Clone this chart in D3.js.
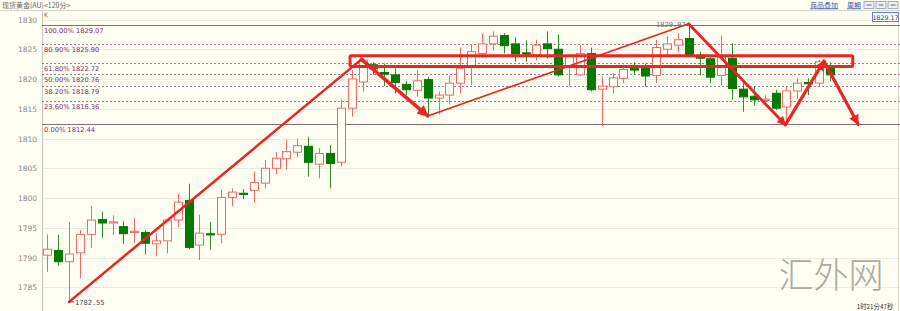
<!DOCTYPE html>
<html><head><meta charset="utf-8">
<script src="https://cdn.jsdelivr.net/npm/d3@7"></script>
<style>html,body{margin:0;padding:0;background:#fffff2;}svg{display:block;}</style>
</head><body>
<svg id="c" width="900" height="311"></svg>
<script>
// ---- data ----
const opens  = [1790.4,1791.2,1789.3,1790.8,1793.9,1796.4,1795.8,1795.2,1794.2,1794.2,1792.3,1792.8,1796.3,1799.6,1792.1,1794.0,1793.9,1800.1,1800.8,1801.3,1802.5,1805.0,1806.6,1807.7,1808.7,1805.7,1807.5,1806.0,1815.1,1819.5,1822.4,1821.1,1820.7,1819.1,1818.1,1819.9,1816.8,1817.3,1819.3,1822.0,1824.3,1825.9,1827.3,1825.9,1824.4,1824.1,1825.9,1825.0,1822.1,1820.7,1824.3,1818.3,1818.7,1820.1,1821.8,1821.9,1820.6,1825.0,1825.7,1826.8,1824.0,1823.4,1820.6,1823.5,1818.3,1817.1,1816.4,1817.6,1815.3,1818.0,1819.4,1819.3,1821.8];
const highs  = [1793.9,1793.8,1796.0,1794.6,1798.7,1797.7,1797.1,1796.1,1796.7,1794.6,1794.1,1796.5,1800.8,1802.4,1797.2,1796.0,1801.4,1801.6,1801.5,1804.5,1806.4,1807.7,1809.8,1810.0,1810.3,1808.4,1808.9,1816.6,1821.5,1823.5,1822.8,1822.6,1821.8,1819.7,1821.5,1820.4,1817.9,1820.6,1825.3,1825.8,1827.7,1828.0,1827.7,1827.0,1826.5,1826.6,1828.0,1827.5,1824.0,1825.7,1825.3,1820.4,1821.0,1822.4,1822.8,1822.6,1826.6,1827.2,1827.7,1829.07,1824.6,1824.0,1827.3,1826.0,1819.3,1818.7,1817.3,1818.2,1818.7,1820.1,1820.1,1823.2,1822.8];
const lows   = [1787.6,1788.6,1782.55,1786.5,1791.6,1793.3,1793.8,1792.3,1792.4,1790.5,1790.2,1790.7,1795.1,1791.4,1789.6,1791.3,1792.4,1798.7,1799.8,1799.2,1801.6,1804.0,1804.8,1806.9,1803.6,1803.3,1801.6,1805.3,1813.7,1817.9,1820.7,1818.8,1817.6,1817.3,1817.0,1813.8,1814.1,1815.7,1817.6,1819.0,1823.5,1824.8,1824.3,1822.9,1822.9,1823.1,1823.5,1820.4,1818.7,1820.5,1817.9,1812.1,1817.6,1819.3,1820.7,1818.7,1819.3,1824.2,1824.5,1823.7,1820.6,1819.3,1818.9,1816.5,1814.5,1815.5,1815.9,1814.8,1812.44,1816.6,1817.3,1818.7,1819.6];
const closes = [1791.4,1789.3,1790.6,1793.9,1796.3,1795.8,1796.0,1794.0,1794.4,1792.4,1792.8,1796.3,1799.3,1791.7,1794.1,1793.9,1800.1,1801.0,1800.6,1802.6,1805.0,1806.7,1807.8,1808.8,1806.0,1807.5,1805.8,1815.1,1820.0,1823.2,1821.7,1820.8,1819.4,1818.2,1819.7,1816.8,1817.3,1819.3,1821.8,1824.6,1825.9,1827.2,1825.6,1824.2,1824.2,1825.7,1825.1,1820.7,1823.8,1824.3,1818.2,1818.8,1820.2,1821.6,1821.5,1820.5,1825.3,1825.9,1826.6,1824.1,1823.5,1820.3,1823.7,1818.4,1817.0,1816.5,1816.6,1815.1,1818.0,1819.3,1819.2,1822.9,1820.7];
const yTicks = [1785,1790,1795,1800,1805,1810,1815,1820,1825,1830];
const fibPct  = ["100.00%","80.90%","61.80%","50.00%","38.20%","23.60%","0.00%"];
const fibVals = [1829.07,1825.90,1822.72,1820.76,1818.79,1816.36,1812.44];
// annotation path vertices: [candle index, price]
const annoIdx   = [2, 28.9, 35, 59, 67.9, 71.45, 74.6];
const annoPrice = [1782.55, 1823.3, 1813.8, 1829.3, 1812.3, 1823.0, 1812.4];
const boxIdx = [27.85, 74.1], boxPrice = [1823.9, 1822.1];
const title = "现货黄金(AU)<120分>";

// ---- scales ----
const svg = d3.select("#c");
const W = 900, H = 311, plotLeft = 42, plotTop = 10.5;
const x = d3.scaleLinear().domain([0, 72]).range([47.3, 47.3 + 72 * 10.87]);
const y = d3.scaleLinear().domain([1830, 1785]).range([19.5, 287.3]);

svg.append("rect").attr("width", W).attr("height", H).attr("fill", "#fffff2");

// header
svg.append("line").attr("x1", 0).attr("x2", W).attr("y1", plotTop).attr("y2", plotTop).attr("stroke", "#d4d4c8");
svg.append("text").attr("x", 2).attr("y", 8).text(title)
  .attr("font-family", "Noto Sans CJK SC").attr("font-size", 7).attr("fill", "#666");
svg.append("text").attr("x", 810).attr("y", 7.5).text("商品叠加").attr("font-family","Noto Sans CJK SC")
  .attr("font-size", 7).attr("fill", "#3355aa").attr("text-decoration","underline");
svg.append("text").attr("x", 847).attr("y", 7.5).text("周期").attr("font-family","Noto Sans CJK SC")
  .attr("font-size", 7).attr("fill", "#3355aa").attr("text-decoration","underline");
[864, 876, 888].forEach(bx => {
  svg.append("rect").attr("x", bx).attr("y", 1.5).attr("width", 10).attr("height", 7)
    .attr("fill", "#eef0f4").attr("stroke", "#8899aa").attr("stroke-width", 0.8);
  svg.append("line").attr("x1", bx+2.5).attr("x2", bx+7.5).attr("y1", 5).attr("y2", 5).attr("stroke", "#556677");
});

// grid + y axis labels
const g = svg.append("g");
g.selectAll("line.grid").data(yTicks).join("line").attr("class","grid")
  .attr("x1", plotLeft).attr("x2", W).attr("y1", d => Math.round(y(d)) + 0.5).attr("y2", d => Math.round(y(d)) + 0.5)
  .attr("stroke", "#ebebdf");
g.selectAll("text.yl").data(yTicks).join("text").attr("class","yl")
  .attr("x", 37).attr("y", d => y(d) + 3).attr("text-anchor", "end").text(d => d)
  .attr("font-family", "DejaVu Sans").attr("font-size", 7.5).attr("fill", "#888");
svg.append("line").attr("x1", plotLeft + 0.5).attr("x2", plotLeft + 0.5).attr("y1", plotTop).attr("y2", H).attr("stroke", "#c8c8bc");
svg.append("line").attr("x1", 898.5).attr("x2", 898.5).attr("y1", plotTop).attr("y2", H).attr("stroke", "#d8d8cc");
svg.append("text").attr("x", 44).attr("y", 16.5).text("K").attr("font-family","DejaVu Sans").attr("font-size", 6).attr("fill","#666");

// fib lines
fibVals.forEach((v, i) => {
  const solid = i === 0 || i === fibVals.length - 1;
  const yy = Math.round(y(v)) + 0.5;
  svg.append("line").attr("x1", plotLeft).attr("x2", W).attr("y1", yy).attr("y2", yy)
    .attr("stroke", solid ? "#8c6a7c" : "#a07a92").attr("stroke-width", 1)
    .attr("stroke-dasharray", solid ? null : "2,2");
  svg.append("text").attr("x", 44).attr("y", yy + 7.5).text(fibPct[i] + " " + v.toFixed(2))
    .attr("font-family", "DejaVu Sans").attr("font-size", 6.7).attr("fill", "#7a2a6a");
});

// candles
const idx = d3.range(opens.length);
const upCol = "#ee6a6a", dnCol = "#047a04";
const cg = svg.append("g");
cg.selectAll("line.wick").data(idx).join("line").attr("class","wick")
  .attr("x1", i => Math.round(x(i)) + 0.5).attr("x2", i => Math.round(x(i)) + 0.5)
  .attr("y1", i => y(highs[i])).attr("y2", i => y(lows[i]))
  .attr("stroke", i => closes[i] >= opens[i] ? upCol : "#2e8b2e").attr("stroke-width", 1);
cg.selectAll("rect.body").data(idx).join("rect").attr("class","body")
  .attr("x", i => Math.round(x(i)) - 3.5)
  .attr("width", 8)
  .attr("y", i => y(Math.max(opens[i], closes[i])))
  .attr("height", i => Math.max(1.2, Math.abs(y(opens[i]) - y(closes[i]))))
  .attr("fill", i => closes[i] >= opens[i] ? "#fffff2" : dnCol)
  .attr("stroke", i => closes[i] >= opens[i] ? upCol : dnCol).attr("stroke-width", 1);

// annotations
const red = "#ec2424";
const defs = svg.append("defs");
defs.append("marker").attr("id", "ah").attr("viewBox", "0 0 10 10").attr("refX", 9).attr("refY", 5)
  .attr("markerWidth", 3.2).attr("markerHeight", 3.2).attr("orient", "auto-start-reverse")
  .append("path").attr("d", "M0,0 L10,5 L0,10 z").attr("fill", red);
const pts = annoIdx.map((d, i) => [x(d), y(annoPrice[i])]);
const widths = [2.5, 3.5, 1.6, 2.8, 3.2, 3.2];
const arrows = [false, true, false, true, true, true];
for (let i = 0; i < pts.length - 1; i++) {
  svg.append("line").attr("x1", pts[i][0]).attr("y1", pts[i][1]).attr("x2", pts[i+1][0]).attr("y2", pts[i+1][1])
    .attr("stroke", red).attr("stroke-width", widths[i]).attr("stroke-linecap", "round")
    .attr("marker-end", arrows[i] ? "url(#ah)" : null);
}
svg.append("rect").attr("x", x(boxIdx[0])).attr("y", y(boxPrice[0]))
  .attr("width", x(boxIdx[1]) - x(boxIdx[0])).attr("height", y(boxPrice[1]) - y(boxPrice[0]))
  .attr("rx", 1.5).attr("fill", "none").attr("stroke", red).attr("stroke-width", 3);

// high / low labels
const lowX = x(2), lowY = y(1782.55);
svg.append("line").attr("x1", lowX).attr("x2", lowX + 5).attr("y1", lowY).attr("y2", lowY).attr("stroke", "#445");
svg.append("text").attr("x", lowX + 6).attr("y", lowY + 3).text("1782.55")
  .attr("font-family", "DejaVu Sans Mono").attr("font-size", 7).attr("fill", "#334466");
const hiX = x(59), hiY = y(1829.07);
svg.append("text").attr("x", hiX - 3).attr("y", hiY + 2).attr("text-anchor", "end").text("1829.07")
  .attr("font-family", "DejaVu Sans Mono").attr("font-size", 7).attr("fill", "#777");

// right price box
svg.append("rect").attr("x", 872.5).attr("y", 12.5).attr("width", 26).attr("height", 9)
  .attr("fill", "#ffffff").attr("stroke", "#6a7fd0");
svg.append("text").attr("x", 885.5).attr("y", 19.5).attr("text-anchor", "middle").text("1829.17")
  .attr("font-family", "DejaVu Sans").attr("font-size", 6.3).attr("fill", "#2a3a8a");

// watermark & timer
svg.append("text").attr("x", 831).attr("y", 288).attr("text-anchor", "middle").text("汇外网")
  .attr("font-family", "Noto Sans CJK SC").attr("font-weight", 300).attr("font-size", 35).attr("fill", "#aaaaa2");
svg.append("text").attr("x", 875).attr("y", 309).attr("text-anchor", "middle").text("1时21分47秒")
  .attr("font-family", "Noto Sans CJK SC").attr("font-size", 6.3).attr("fill", "#333");
</script>
</body></html>
